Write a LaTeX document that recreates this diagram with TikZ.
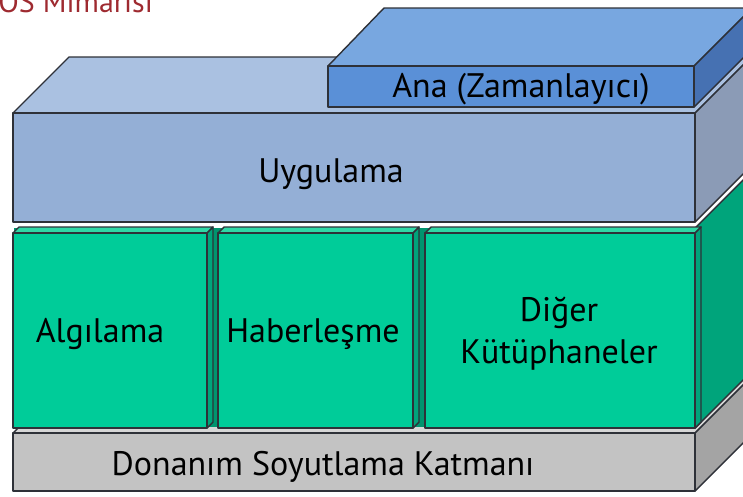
\documentclass[tikz,border=0pt]{standalone}
\usepackage{fontspec}
\setmainfont{PT Sans}
\definecolor{outline}{HTML}{2E3138}
\definecolor{titlered}{HTML}{9E2A30}
% hardware layer
\definecolor{grayfront}{HTML}{C3C3C3}
\definecolor{graytop}{HTML}{D6D6D6}
\definecolor{grayside}{HTML}{A4A4A4}
% component layer
\definecolor{greenfront}{HTML}{00CC99}
\definecolor{greentop}{HTML}{2FD8A6}
\definecolor{greenside}{HTML}{00A47B}
\definecolor{greengap}{HTML}{00946E}
% application layer
\definecolor{appfront}{HTML}{94AFD6}
\definecolor{apptop}{HTML}{AAC1E1}
\definecolor{appside}{HTML}{8B9BB6}
% main component
\definecolor{mainfront}{HTML}{5A90D7}
\definecolor{maintop}{HTML}{78A7E0}
\definecolor{mainside}{HTML}{4671B2}
\begin{document}
\begin{tikzpicture}[x=1pt,y=-1pt,
  face/.style={draw=outline, line width=1.4pt, line join=round},
  lbl/.style={font=\fontsize{34}{42}\selectfont, text=black, align=center, inner sep=0pt, anchor=base}]
\useasboundingbox (0,0) rectangle (743,496);
\clip (0,0) rectangle (743,496);

% title
\node[font=\fontsize{30}{34}\selectfont, text=titlered, anchor=base east, inner sep=0pt]
  (title) at (153,12) {OS Mimarisi};

% hardware abstraction slab
\fill[graytop, face] (13,433) -- (69,377) -- (751,377) -- (695,433) -- cycle;
\fill[grayside, face] (695,433) -- (751,377) -- (751,435) -- (695,491) -- cycle;
\fill[grayfront, face] (13,433) rectangle (695,491);

% component layer: right face and dark back fill
\fill[greenside, face] (695,228) -- (751,172) -- (751,372) -- (695,428) -- cycle;
\fill[greengap] (14,228) rectangle (695,427);
\foreach \a/\b in {13/207, 218/413, 425/695}{
  \fill[greentop, face] (\a,233) -- (\a+6,227) -- (\b+6,227) -- (\b,233) -- cycle;
  \fill[greenside, face] (\b,233) -- (\b+6,227) -- (\b+6,422) -- (\b,428) -- cycle;
  \fill[greenfront, face] (\a,233) rectangle (\b,428);
}

% application slab
\fill[apptop, face] (13,113) -- (69,57) -- (751,57) -- (695,113) -- cycle;
\fill[appside, face] (695,113) -- (751,57) -- (751,166) -- (695,222) -- cycle;
\fill[appfront, face] (13,113) rectangle (695,222);

% main (timer) block on top
\fill[maintop, face] (328,66) -- (384,8) -- (752,8) -- (694,66) -- cycle;
\fill[mainside, face] (694,66) -- (752,8) -- (752,49) -- (694,107) -- cycle;
\fill[mainfront, face] (328,66) rectangle (694,107);

% labels
\node[lbl] (ana) at (521,97) {Ana (Zamanlayıcı)};
\node[lbl] (uyg) at (331,182) {Uygulama};
\node[lbl] (alg) at (100,342) {Algılama};
\node[lbl] (hab) at (313,342) {Haberleşme};
\node[lbl, anchor=center] (dig) at (559,334) {Diğer\\Kütüphaneler};
\node[lbl] (don) at (323,475) {Donanım Soyutlama Katmanı};
\end{tikzpicture}
\end{document}
